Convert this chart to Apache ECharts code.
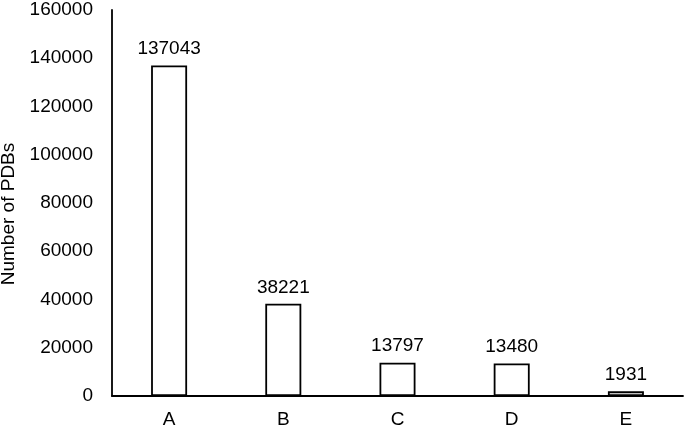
<!DOCTYPE html>
<html><head><meta charset="utf-8">
<script src="https://cdn.jsdelivr.net/npm/echarts@6/dist/echarts.min.js"></script>
<style>html,body{margin:0;padding:0;background:#fff}#c{width:685px;height:430px}</style>
</head><body><div id="c"></div>
<script>
const categories = ['A','B','C','D','E'];
const values = [137043, 38221, 13797, 13480, 1931];
const yTicks = [0,20000,40000,60000,80000,100000,120000,140000,160000];
const chart = echarts.init(document.getElementById('c'));
const font = 'Liberation Sans, Arial, sans-serif';
chart.setOption({
  animation:false,
  grid:{left:112,right:2,top:10,bottom:34,containLabel:false,outerBoundsMode:'none'},
  xAxis:{type:'category',data:categories,
    axisLine:{lineStyle:{color:'#000',width:1.8}},axisTick:{show:false},
    axisLabel:{color:'#000',fontSize:19,fontFamily:font,margin:14}},
  yAxis:{type:'value',min:yTicks[0],max:yTicks[yTicks.length-1],interval:20000,
    name:'Number of PDBs',nameLocation:'middle',nameGap:83,nameRotate:90,
    nameTextStyle:{color:'#000',fontSize:19,fontFamily:font,padding:[0,22,0,0]},
    axisLine:{show:true,lineStyle:{color:'#000',width:1.8}},axisTick:{show:false},
    splitLine:{show:false},
    axisLabel:{color:'#000',fontSize:19,fontFamily:font,margin:19,formatter:v=>String(v)}},
  series:[{type:'bar',data:values,barWidth:36,
    itemStyle:{color:'#fff',borderColor:'#000',borderWidth:1.8},
    label:{show:true,position:'top',distance:7,color:'#000',fontSize:19,fontFamily:font}}]
});
</script></body></html>
